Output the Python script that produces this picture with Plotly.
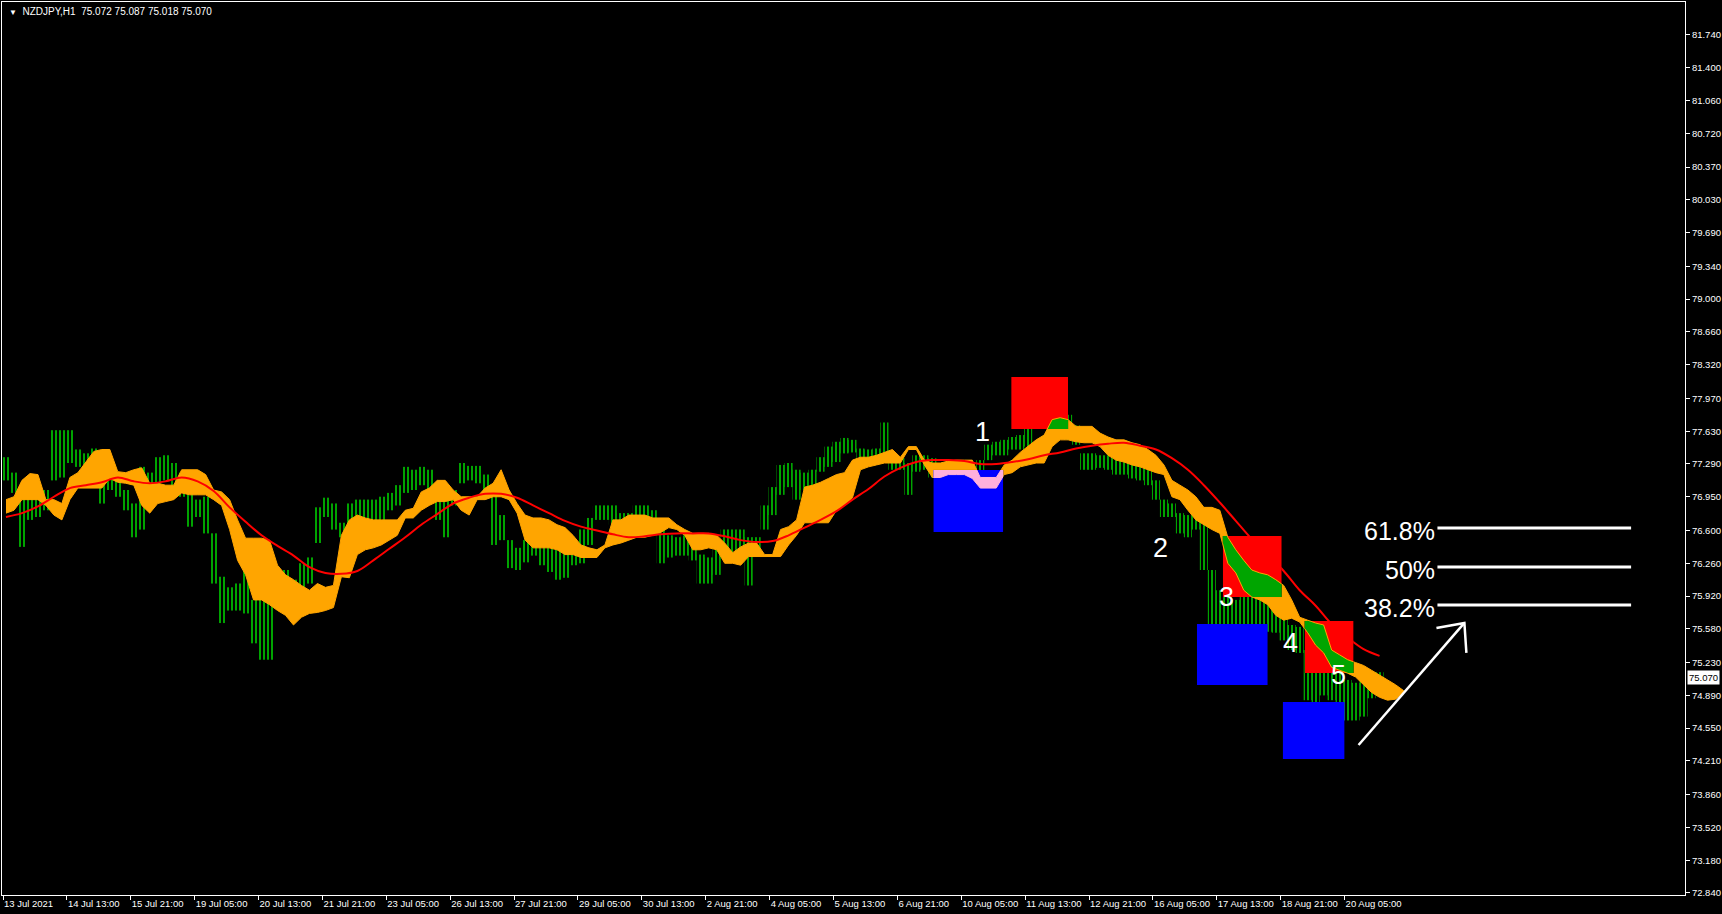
import plotly.graph_objects as go

# ---------------- data ----------------
symbol_header = "NZDJPY,H1  75.072 75.087 75.018 75.070"
last_price = 75.070

# time axis = H1 bar index counted from 13 Jul 2021 05:00 (weekends skipped)
tick_hours = list(range(0, 673, 32))
tick_labels = ["13 Jul 2021", "14 Jul 13:00", "15 Jul 21:00", "19 Jul 05:00", "20 Jul 13:00",
               "21 Jul 21:00", "23 Jul 05:00", "26 Jul 13:00", "27 Jul 21:00", "29 Jul 05:00",
               "30 Jul 13:00", "2 Aug 21:00", "4 Aug 05:00", "5 Aug 13:00", "6 Aug 21:00",
               "10 Aug 05:00", "11 Aug 13:00", "12 Aug 21:00", "16 Aug 05:00", "17 Aug 13:00",
               "18 Aug 21:00", "20 Aug 05:00"]

price_ticks = [81.740, 81.400, 81.060, 80.720, 80.370, 80.030, 79.690, 79.340, 79.000, 78.660,
               78.320, 77.970, 77.630, 77.290, 76.950, 76.600, 76.260, 75.920, 75.580, 75.230,
               74.890, 74.550, 74.210, 73.860, 73.520, 73.180, 72.840]

# price bars, aggregated to 4-hour blocks (high / low)
bar_high = [77.36, 77.20, 77.05, 76.95, 76.92, 77.02, 77.64, 77.64, 77.64, 77.44,
            77.40, 77.45, 77.15, 77.20, 77.12, 77.02, 76.88, 77.26, 77.20, 77.36,
            77.38, 77.30, 77.20, 77.09, 76.92, 76.95, 76.57, 76.12, 76.01, 76.05,
            76.19, 75.88, 75.88, 75.98, 76.09, 76.19, 76.09, 76.26, 76.32, 76.84,
            76.94, 76.88, 76.68, 76.88, 76.92, 76.92, 76.92, 76.95, 76.99, 77.07,
            77.26, 77.23, 77.26, 77.23, 76.95, 76.97, 77.02, 77.30, 77.27, 77.27,
            77.18, 76.97, 76.76, 76.50, 76.42, 76.50, 76.50, 76.47, 76.45, 76.40,
            76.50, 76.50, 76.61, 76.73, 76.86, 76.86, 76.86, 76.78, 76.78, 76.86,
            76.86, 76.81, 76.61, 76.55, 76.53, 76.55, 76.50, 76.35, 76.32, 76.45,
            76.61, 76.61, 76.61, 76.53, 76.53, 76.86, 77.05, 77.28, 77.30, 77.23,
            77.20, 77.23, 77.36, 77.47, 77.52, 77.56, 77.54, 77.45, 77.44, 77.45,
            77.72, 77.38, 77.35, 77.30, 77.38, 77.38, 77.35, 77.25, 77.23, 77.21,
            77.09, 77.23, 77.33, 77.49, 77.52, 77.54, 77.57, 77.59, 77.75, 77.92,
            77.90, 77.82, 77.82, 77.80, 77.69, 77.40, 77.40, 77.38, 77.38, 77.35,
            77.33, 77.31, 77.28, 77.26, 77.12, 76.92, 76.88, 76.78, 76.76, 76.81,
            76.81, 76.19, 75.98, 75.91, 75.88, 75.91, 76.03, 75.93, 75.93, 75.81,
            75.72, 75.62, 75.60, 75.36, 75.26, 75.23, 75.18, 75.13, 75.05, 75.02,
            75.05, 75.12, 75.13]
bar_low = [77.12, 76.99, 76.43, 76.71, 76.74, 76.81, 77.12, 77.15, 77.30, 77.26,
           77.26, 77.12, 76.88, 77.02, 76.95, 76.81, 76.53, 76.61, 76.88, 77.09,
           77.12, 77.05, 76.95, 76.64, 76.74, 76.57, 76.05, 75.64, 75.77, 75.77,
           75.74, 75.43, 75.26, 75.26, 75.85, 75.88, 75.88, 75.74, 76.05, 76.47,
           76.74, 76.61, 76.53, 76.64, 76.53, 76.55, 76.64, 76.71, 76.81, 76.86,
           76.99, 77.02, 77.07, 76.95, 76.71, 76.53, 76.86, 77.09, 77.12, 77.09,
           76.97, 76.45, 76.50, 76.21, 76.19, 76.27, 76.34, 76.24, 76.17, 76.09,
           76.11, 76.24, 76.26, 76.45, 76.71, 76.71, 76.66, 76.61, 76.61, 76.64,
           76.64, 76.55, 76.26, 76.32, 76.34, 76.34, 76.29, 76.05, 76.05, 76.14,
           76.34, 76.34, 76.34, 76.03, 76.35, 76.61, 76.76, 76.97, 77.05, 76.92,
           77.02, 77.05, 77.21, 77.26, 77.31, 77.40, 77.41, 77.33, 77.33, 77.35,
           77.38, 77.23, 77.23, 76.97, 77.21, 77.23, 77.15, 77.12, 77.09, 77.07,
           76.88, 76.92, 77.12, 77.33, 77.38, 77.38, 77.44, 77.44, 77.47, 77.75,
           77.69, 77.61, 77.61, 77.54, 77.49, 77.23, 77.23, 77.25, 77.23, 77.18,
           77.18, 77.14, 77.12, 77.07, 76.92, 76.74, 76.74, 76.57, 76.53, 76.61,
           76.19, 75.62, 75.39, 75.57, 75.57, 75.60, 75.20, 75.62, 75.55, 75.54,
           75.46, 75.36, 75.33, 74.84, 74.55, 74.89, 74.84, 74.72, 74.63, 74.63,
           74.67, 74.86, 74.94]

# Ichimoku cloud edges (4-hour steps)
cloud_upper = [76.92, 76.95, 77.12, 77.19, 77.18, 76.92, 76.92, 76.88, 77.15, 77.20,
               77.31, 77.42, 77.44, 77.44, 77.21, 77.20, 77.23, 77.25, 77.09, 77.09,
               77.07, 77.07, 77.23, 77.23, 77.23, 77.18, 77.02, 77.00, 76.92, 76.71,
               76.52, 76.52, 76.52, 76.50, 76.24, 76.14, 76.09, 76.03, 75.98, 76.05,
               76.01, 76.03, 76.55, 76.71, 76.76, 76.73, 76.71, 76.71, 76.71, 76.71,
               76.81, 76.83, 77.00, 77.04, 77.12, 77.12, 77.02, 76.95, 76.95, 76.95,
               77.04, 77.09, 77.23, 77.02, 76.88, 76.76, 76.73, 76.73, 76.71, 76.66,
               76.63, 76.55, 76.45, 76.42, 76.40, 76.45, 76.71, 76.71, 76.76, 76.76,
               76.76, 76.73, 76.73, 76.73, 76.66, 76.61, 76.57, 76.57, 76.57, 76.55,
               76.47, 76.37, 76.43, 76.47, 76.47, 76.35, 76.35, 76.61, 76.64, 76.71,
               77.05, 77.07, 77.10, 77.14, 77.18, 77.20, 77.33, 77.36, 77.36, 77.38,
               77.41, 77.44, 77.36, 77.47, 77.47, 77.33, 77.30, 77.30, 77.32, 77.33,
               77.33, 77.33, 77.15, 77.15, 77.15, 77.28, 77.33, 77.41, 77.48, 77.54,
               77.59, 77.75, 77.77, 77.75, 77.68, 77.68, 77.68, 77.61, 77.57, 77.54,
               77.54, 77.51, 77.49, 77.44, 77.38, 77.28, 77.12, 77.07, 77.02, 76.95,
               76.84, 76.84, 76.81, 76.53, 76.40, 76.29, 76.19, 76.16, 76.14, 76.09,
               76.03, 75.88, 75.70, 75.67, 75.64, 75.62, 75.36, 75.31, 75.26, 75.23,
               75.20, 75.15, 75.10, 75.05, 75.00, 74.94]
cloud_lower = [76.78, 76.81, 76.92, 76.92, 76.92, 76.86, 76.76, 76.71, 76.92, 77.04,
               77.04, 77.04, 77.04, 77.14, 77.10, 77.09, 77.07, 76.86, 76.78, 76.88,
               76.90, 76.92, 76.99, 76.97, 76.97, 76.97, 76.92, 76.86, 76.61, 76.29,
               76.14, 75.88, 75.88, 75.83, 75.77, 75.72, 75.62, 75.70, 75.74, 75.75,
               75.77, 75.80, 76.12, 76.11, 76.35, 76.40, 76.42, 76.45, 76.50, 76.55,
               76.73, 76.73, 76.81, 76.86, 76.90, 76.90, 76.92, 76.81, 76.76, 76.92,
               76.92, 76.95, 76.95, 76.92, 76.78, 76.50, 76.42, 76.42, 76.42, 76.40,
               76.35, 76.35, 76.32, 76.32, 76.32, 76.42, 76.45, 76.47, 76.50, 76.53,
               76.53, 76.55, 76.58, 76.63, 76.61, 76.55, 76.40, 76.40, 76.42, 76.40,
               76.26, 76.26, 76.24, 76.33, 76.33, 76.33, 76.33, 76.33, 76.45, 76.55,
               76.68, 76.68, 76.68, 76.68, 76.81, 76.86, 76.94, 77.23, 77.26, 77.28,
               77.30, 77.30, 77.30, 77.44, 77.44, 77.28, 77.15, 77.15, 77.18, 77.18,
               77.18, 77.14, 77.04, 77.04, 77.04, 77.18, 77.20, 77.26, 77.28, 77.30,
               77.30, 77.47, 77.54, 77.54, 77.52, 77.51, 77.51, 77.47, 77.38, 77.33,
               77.31, 77.28, 77.26, 77.23, 77.20, 77.18, 76.95, 76.92, 76.81, 76.71,
               76.66, 76.61, 76.57, 76.26, 76.16, 75.98, 75.91, 75.88, 75.83, 75.72,
               75.67, 75.69, 75.65, 75.54, 75.41, 75.33, 75.18, 75.15, 75.12, 75.08,
               75.00, 74.92, 74.87, 74.84, 74.85, 74.92]

# moving average (8-hour steps)
ma_line = [76.74, 76.78, 76.85, 76.95, 77.04, 77.07, 77.10, 77.15, 77.11, 77.09,
           77.11, 77.15, 77.11, 77.01, 76.84, 76.69, 76.55, 76.44, 76.34, 76.22,
           76.16, 76.15, 76.18, 76.29, 76.41, 76.53, 76.66, 76.77, 76.88, 76.94,
           76.98, 76.98, 76.94, 76.86, 76.78, 76.70, 76.64, 76.60, 76.56, 76.53,
           76.54, 76.56, 76.57, 76.57, 76.57, 76.54, 76.50, 76.48, 76.49, 76.55,
           76.63, 76.71, 76.80, 76.92, 77.03, 77.16, 77.25, 77.31, 77.33, 77.33,
           77.32, 77.29, 77.29, 77.31, 77.34, 77.38, 77.41, 77.45, 77.48, 77.50,
           77.51, 77.48, 77.44, 77.35, 77.23, 77.07, 76.89, 76.70, 76.51, 76.35,
           76.18, 75.98, 75.82, 75.63, 75.49, 75.37, 75.30]

# drawn objects: rectangles
box_kind = ["blue", "red", "red", "blue", "red", "blue"]
box_start_hour = [466, 505, 611, 598, 652, 641]
box_end_hour = [501, 533.5, 640.5, 633.5, 676.5, 672]
box_top = [77.228, 78.192, 76.543, 75.630, 75.661, 74.821]
box_bottom = [76.585, 77.653, 75.910, 74.997, 75.122, 74.230]

# wave labels
wave_text = ["1", "2", "3", "4", "5"]
wave_hour = [490.5, 580, 613, 645, 669]
wave_price = [77.622, 76.42, 75.91, 75.433, 75.101]

# fibonacci levels
fib_labels = ["61.8%", "50%", "38.2%"]
fib_levels = [76.626, 76.222, 75.827]
fib_start_hour = 718.5
fib_end_hour = 815.5

# hand-drawn arrow (shaft, then head)
arrow_hour = [679, 732, None, 718, 732, 733]
arrow_price = [74.375, 75.641, None, 75.589, 75.641, 75.330]

# ---------------- figure ----------------
X_RANGE = [-0.5, 842.5]
Y_RANGE = [72.819, 82.082]
FONT = "Liberation Sans, Arial, sans-serif"

bar_hours = [4 * i + 1.5 for i in range(len(bar_high))]
bar_span = [h - l for h, l in zip(bar_high, bar_low)]
cloud_hours = [4 * i + 1.5 for i in range(len(cloud_upper))]
ma_hours = [8 * i + 1.5 for i in range(len(ma_line))]

poly_x = cloud_hours + cloud_hours[::-1]
poly_y = cloud_upper + cloud_lower[::-1]


def bars(color, opacity=1.0, xa="x", ya="y"):
    # MT4-style vertical bar strokes rendered as a vertical hatch
    return go.Bar(x=bar_hours, y=bar_span, base=bar_low, width=4,
                  marker=dict(color="rgba(0,0,0,0)", line=dict(width=0),
                              pattern=dict(shape="|", size=4, solidity=0.5, fgcolor=color,
                                           bgcolor="rgba(0,0,0,0)", fillmode="overlay")),
                  opacity=opacity, xaxis=xa, yaxis=ya, hoverinfo="skip", showlegend=False)


def cloud(fill, line, xa="x", ya="y"):
    return go.Scatter(x=poly_x, y=poly_y, mode="lines", fill="toself", fillcolor=fill,
                      line=dict(color=line, width=1), xaxis=xa, yaxis=ya,
                      hoverinfo="skip", showlegend=False)


def ma(xa="x", ya="y"):
    return go.Scatter(x=ma_hours, y=ma_line, mode="lines", line=dict(color="#FF0000", width=2, shape="spline"),
                      xaxis=xa, yaxis=ya, hoverinfo="skip", showlegend=False)


fig = go.Figure()
fig.add_trace(bars("#00FF00"))
fig.add_trace(cloud("#FFA500", "#FFA500"))
fig.add_trace(bars("#00FF00", 0.55))
fig.add_trace(ma())

for lvl in fib_levels:
    fig.add_trace(go.Scatter(x=[fib_start_hour, fib_end_hour], y=[lvl, lvl], mode="lines",
                             line=dict(color="white", width=3), hoverinfo="skip", showlegend=False))
fig.add_trace(go.Scatter(x=arrow_hour, y=arrow_price, mode="lines",
                         line=dict(color="white", width=2.5), hoverinfo="skip", showlegend=False))

# rectangles: each drawn in its own clipped subplot so the chart shows through in XOR-like colours
box_fill = {"red": "#FF0000", "blue": "#0000FF"}
xor_cloud = {"red": "#00A500", "blue": "#FFB0DC"}
xor_bars = {"red": "#D8F020", "blue": "#30FFD8"}


def frac(v, r):
    return (v - r[0]) / (r[1] - r[0])


layout_axes = {}
for k, kind in enumerate(box_kind):
    n = k + 2
    xa, ya = f"x{n}", f"y{n}"
    s, e, t, b = box_start_hour[k], box_end_hour[k], box_top[k], box_bottom[k]
    layout_axes[f"xaxis{n}"] = dict(domain=[frac(s, X_RANGE), frac(e, X_RANGE)], range=[s, e],
                                    anchor=ya, visible=False, fixedrange=True)
    layout_axes[f"yaxis{n}"] = dict(domain=[frac(b, Y_RANGE), frac(t, Y_RANGE)], range=[b, t],
                                    anchor=xa, visible=False, fixedrange=True)
    fig.add_trace(go.Scatter(x=[s, e, e, s, s], y=[b, b, t, t, b], mode="lines", fill="toself",
                             fillcolor=box_fill[kind], line=dict(width=0, color=box_fill[kind]),
                             xaxis=xa, yaxis=ya, hoverinfo="skip", showlegend=False))
    fig.add_trace(cloud(xor_cloud[kind], "#FFA500" if kind == "red" else xor_cloud[kind], xa, ya))
    fig.add_trace(bars(xor_bars[kind], 1.0, xa, ya))
    fig.add_trace(ma(xa, ya))

annotations = []
for txt, h, p in zip(wave_text, wave_hour, wave_price):
    annotations.append(dict(x=h, y=p, xref="x", yref="y", text=txt, showarrow=False,
                            font=dict(family=FONT, size=27, color="white")))
for txt, p in zip(fib_labels, fib_levels):
    annotations.append(dict(x=fib_start_hour, y=p, xref="x", yref="y", text=txt, showarrow=False,
                            xanchor="right", yanchor="middle", yshift=-3,
                            font=dict(family=FONT, size=25, color="white")))
annotations.append(dict(x=0.003, y=1, xref="paper", yref="paper", xanchor="left", yanchor="top",
                        yshift=-2, showarrow=False,
                        text="<span style='font-size:8px'>▼</span>  " + symbol_header,
                        font=dict(family=FONT, size=10, color="white")))
annotations.append(dict(x=1, y=last_price, xref="paper", yref="y", xanchor="left", yanchor="middle",
                        xshift=2, showarrow=False, text=f"{last_price:.3f}", bgcolor="white",
                        borderpad=1, font=dict(family=FONT, size=9.5, color="black")))

fig.update_layout(
    width=1722, height=914,
    margin=dict(l=1, r=35, t=2, b=19),
    paper_bgcolor="#000000", plot_bgcolor="#000000",
    barmode="overlay", showlegend=False,
    annotations=annotations,
    xaxis=dict(range=X_RANGE, showgrid=False, zeroline=False, showline=True, linecolor="white",
               linewidth=1, mirror=True, tickmode="array", tickvals=tick_hours, ticktext=tick_labels,
               ticks="outside", ticklen=4, tickcolor="white", ticklabelposition="outside right",
               tickangle=0,
               tickfont=dict(family=FONT, size=9.5, color="white"), fixedrange=True),
    yaxis=dict(range=Y_RANGE, side="right", showgrid=False, zeroline=False, showline=True,
               linecolor="white", linewidth=1, mirror=True, tickmode="array", tickvals=price_ticks,
               ticktext=[f"{v:.3f}" for v in price_ticks], ticks="outside", ticklen=4,
               tickcolor="white", tickfont=dict(family=FONT, size=9.5, color="white"), fixedrange=True),
    **layout_axes,
)

fig.write_html("out.html", config={"displayModeBar": False},
               post_script="document.body.style.margin='0';document.body.style.overflow='hidden';")
